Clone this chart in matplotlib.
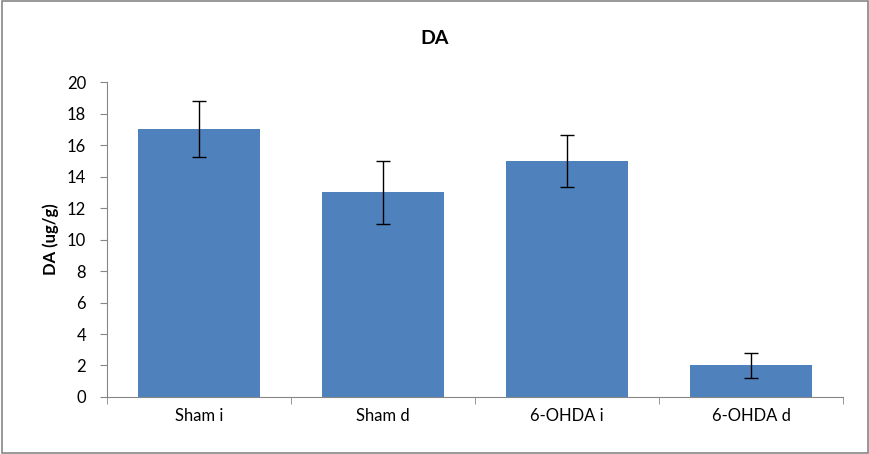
import numpy as np
import matplotlib.pyplot as plt
from matplotlib.patches import Rectangle

# Datos
categories = ["Sham i", "Sham d", "6-OHDA i", "6-OHDA d"]
values = [17.0, 13.0, 15.0, 2.0]
errors = [1.78, 2.0, 1.65, 0.78]

plt.rcParams['font.family'] = ['Lato', 'DejaVu Sans']

fig = plt.figure(figsize=(8.7, 4.54), dpi=100)
ax = fig.add_axes([0.123, 0.1256, 0.846, 0.6935])

x = np.arange(len(categories))
ax.bar(x, values, width=0.66, color='#4F81BD', zorder=2)
ax.errorbar(x, values, yerr=errors, fmt='none', ecolor='black',
            elinewidth=1.0, capsize=5, capthick=1.0, zorder=3)

ax.set_xlim(-0.5, len(categories) - 0.5)
ax.set_ylim(0, 20)
ax.set_yticks(np.arange(0, 21, 2))
ax.set_xticks(x)
ax.set_xticklabels(categories)
ax.set_xticks(np.arange(-0.5, len(categories), 1), minor=True)
ax.tick_params(axis='x', which='major', length=0, labelsize=12, pad=8)
ax.tick_params(axis='x', which='minor', length=5, color='#868686')
ax.tick_params(axis='y', length=5, color='#868686', labelsize=12, pad=10)

for side in ['top', 'right']:
    ax.spines[side].set_visible(False)
for side in ['left', 'bottom']:
    ax.spines[side].set_color('#868686')

ax.set_ylabel("DA (ug/g)", fontsize=12, fontweight='bold', labelpad=6)
fig.text(0.5, 0.915, "DA", ha='center', va='center', fontsize=14, fontweight='bold')

# Borde exterior del gráfico
fig.patches.append(Rectangle((0.002, 0.003), 0.996, 0.994, transform=fig.transFigure,
                             fill=False, edgecolor='#868686', linewidth=1.2))

fig.savefig("out.png", dpi=100)
